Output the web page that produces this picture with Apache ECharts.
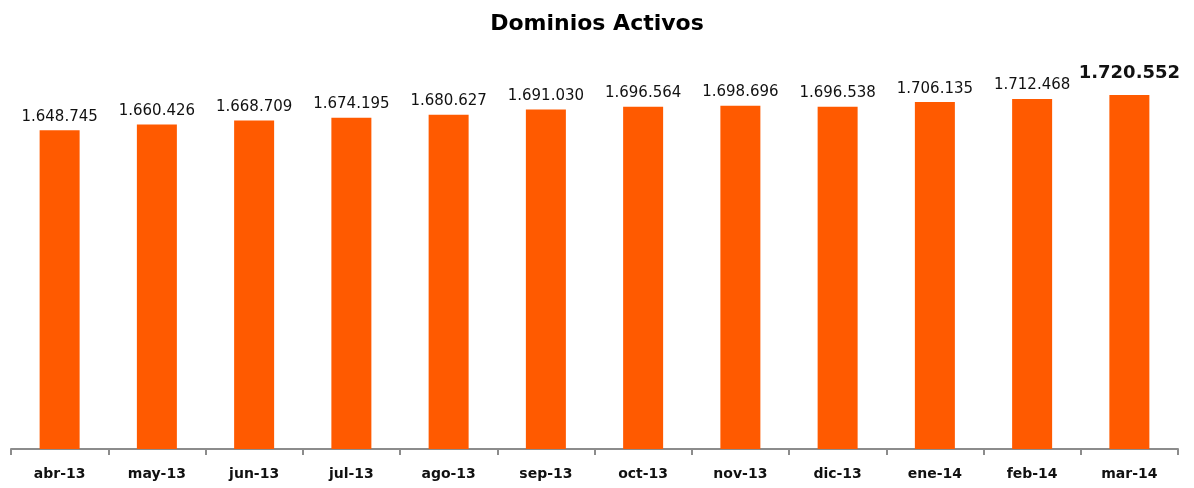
<!DOCTYPE html>
<html>
<head>
<meta charset="utf-8">
<script src="https://cdn.jsdelivr.net/npm/echarts@6/dist/echarts.min.js"></script>
<style>
  html, body { margin: 0; padding: 0; background: #fff; }
  #eChart { width: 1194px; height: 488px; }
</style>
</head>
<body>
<div id="eChart"></div>
<script>
// datos del gráfico
var meses = ['abr-13', 'may-13', 'jun-13', 'jul-13', 'ago-13', 'sep-13', 'oct-13', 'nov-13', 'dic-13', 'ene-14', 'feb-14', 'mar-14'];
var dominios = [1648745, 1660426, 1668709, 1674195, 1680627, 1691030, 1696564, 1698696, 1696538, 1706135, 1712468, 1720552];

function fmt(v) {
  return String(v).replace(/\B(?=(\d{3})+(?!\d))/g, '.');
}

var chart = echarts.init(document.getElementById('eChart'));
var ultimo = dominios.length - 1;

var option = {
  animation: false,
  title: {
    text: 'Dominios Activos',
    left: 'center',
    top: 8,
    textStyle: { fontFamily: 'DejaVu Sans', fontWeight: 'bold', fontSize: 22, color: '#000' }
  },
  grid: { left: 11, right: 16, top: 56, bottom: 39 },
  xAxis: {
    type: 'category',
    data: meses,
    axisLine: { lineStyle: { color: '#8c8c8c', width: 2 } },
    axisTick: { show: true, length: 6, lineStyle: { color: '#8c8c8c', width: 2 } },
    axisLabel: { color: '#111', fontFamily: 'DejaVu Sans', fontWeight: 'bold', fontSize: 14, margin: 18 }
  },
  yAxis: {
    type: 'value',
    min: 1000000,
    max: 1800000,
    show: false,
    splitLine: { show: false }
  },
  series: [{
    type: 'bar',
    barWidth: 40,
    itemStyle: { color: '#FF5A00' },
    label: {
      show: true,
      position: 'top',
      distance: 6,
      color: '#111',
      fontFamily: 'DejaVu Sans',
      fontSize: 15,
      formatter: function (p) { return fmt(p.value); }
    },
    data: dominios.map(function (v, i) {
      if (i === ultimo) {
        return { value: v, label: { fontWeight: 'bold', fontSize: 18, distance: 13 } };
      }
      return v;
    })
  }]
};
chart.setOption(option);
</script>
</body>
</html>
